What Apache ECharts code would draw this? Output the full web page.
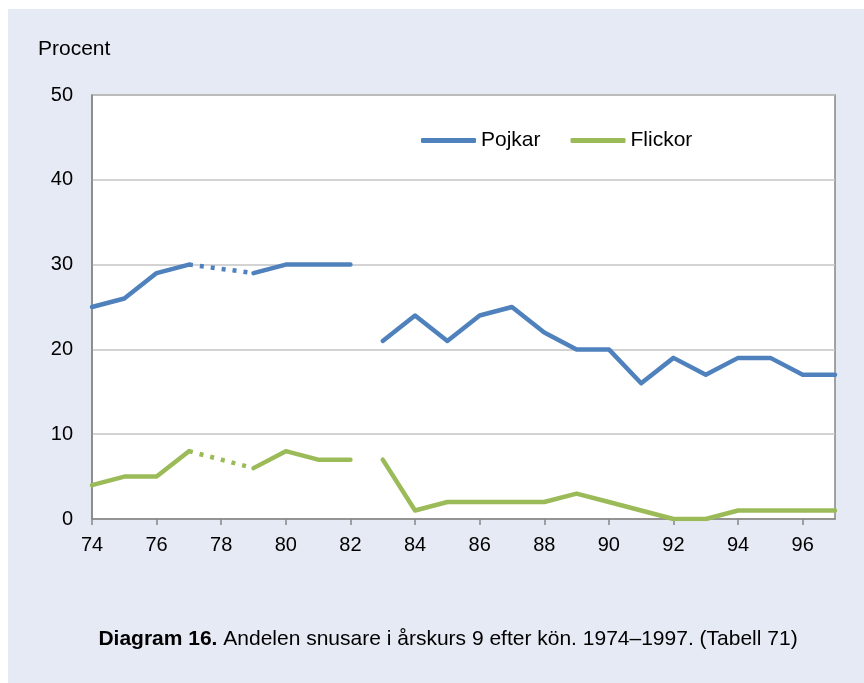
<!DOCTYPE html>
<html>
<head>
<meta charset="utf-8">
<script src="https://cdn.jsdelivr.net/npm/echarts@6/dist/echarts.min.js"></script>
<style>
  body { margin: 0; background: #fff; }
  #chart { position: absolute; left: 8px; top: 9px; width: 856px; height: 674px; background: #e6eaf4; }
</style>
</head>
<body>
<div id="chart"></div>
<script>
// year 74..97, 78 missing (bridged with dotted line), break between 82 and 83
var years = [74, 75, 76, 77, 78, 79, 80, 81, 82, 83, 84, 85, 86, 87, 88, 89, 90, 91, 92, 93, 94, 95, 96, 97];
var pojkar = [25, 26, 29, 30, null, 29, 30, 30, 30, 21, 24, 21, 24, 25, 22, 20, 20, 16, 19, 17, 19, 19, 17, 17];
var flickor = [4, 5, 5, 8, null, 6, 8, 7, 7, 7, 1, 2, 2, 2, 2, 3, 2, 1, 0, 0, 1, 1, 1, 1];
var tickYears = [74, 76, 78, 80, 82, 84, 86, 88, 90, 92, 94, 96];
var bridgeFrom = 77, bridgeTo = 79;
var breakAfter = 82;

var blue = '#4f81bd', green = '#9bbb59';

function solid(vals) {
  var out = [];
  years.forEach(function (y, i) {
    out.push([y, vals[i]]);
    if (y === breakAfter) out.push([y, null]);
  });
  return out;
}
function bridge(vals) {
  return [[bridgeFrom, vals[years.indexOf(bridgeFrom)]], [bridgeTo, vals[years.indexOf(bridgeTo)]]];
}

var chart = echarts.init(document.getElementById('chart'));
var font = 'Liberation Sans, Arial, sans-serif';

chart.setOption({
  animation: false,
  textStyle: { fontFamily: font },
  grid: {
    left: 84, top: 86, right: 29, bottom: 164,
    show: true, backgroundColor: '#fff', borderColor: '#878787', borderWidth: 1.5
  },
  legend: {
    left: 408, top: 116,
    itemWidth: 55, itemHeight: 5, itemGap: 30,
    icon: 'roundRect',
    textStyle: { fontSize: 21, color: '#000', fontFamily: font },
    data: ['Pojkar', 'Flickor']
  },
  graphic: [
    {
      type: 'text', left: 30, top: 30,
      style: { text: 'Procent', font: '21px ' + font, fill: '#000' }
    },
    {
      type: 'text', x: 440, y: 630,
      style: {
        text: '{b|Diagram 16.} Andelen snusare i årskurs 9 efter kön. 1974–1997. (Tabell 71)',
        align: 'center', verticalAlign: 'middle',
        font: '21px ' + font, fill: '#000',
        rich: { b: { fontWeight: 'bold', fontSize: 21, fontFamily: font } }
      }
    }
  ],
  xAxis: {
    type: 'value', min: 74, max: 97, interval: 2,
    axisLine: { show: true, lineStyle: { color: '#878787', width: 1.5 } },
    axisTick: { show: true, length: 6, customValues: tickYears, lineStyle: { color: '#878787', width: 1.5 } },
    axisLabel: { fontSize: 20, color: '#000', margin: 16, customValues: tickYears },
    splitLine: { show: false }
  },
  yAxis: {
    type: 'value', min: 0, max: 50, interval: 10,
    axisLine: { show: true, lineStyle: { color: '#878787', width: 1.5 } },
    axisTick: { show: false },
    axisLabel: { fontSize: 20, color: '#000', margin: 19 },
    splitLine: { lineStyle: { color: '#c4c4c4', width: 1.5 } }
  },
  series: [
    {
      name: 'Pojkar', type: 'line', data: solid(pojkar), showSymbol: false, symbol: 'none',
      lineStyle: { color: blue, width: 4.5, cap: 'round', join: 'round' }, itemStyle: { color: blue }
    },
    {
      name: 'Flickor', type: 'line', data: solid(flickor), showSymbol: false, symbol: 'none',
      lineStyle: { color: green, width: 4.5, cap: 'round', join: 'round' }, itemStyle: { color: green }
    },
    {
      name: 'Pojkar (uppskattat)', type: 'line', data: bridge(pojkar), showSymbol: false, symbol: 'none',
      lineStyle: { color: blue, width: 4.5, type: [4, 7], cap: 'butt' }
    },
    {
      name: 'Flickor (uppskattat)', type: 'line', data: bridge(flickor), showSymbol: false, symbol: 'none',
      lineStyle: { color: green, width: 4.5, type: [4, 7], cap: 'butt' }
    }
  ]
});
</script>
</body>
</html>
